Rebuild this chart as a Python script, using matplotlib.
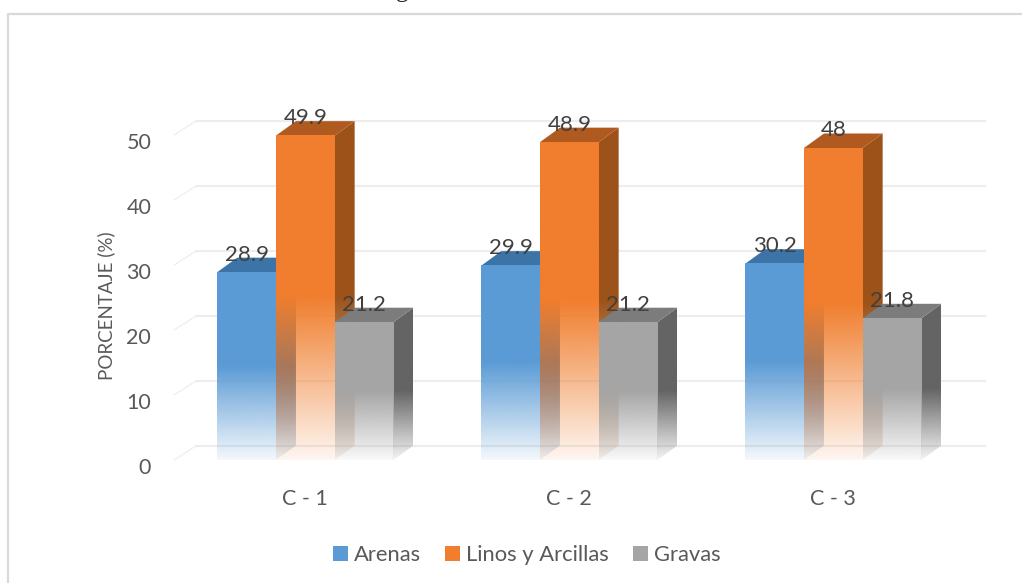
# -*- coding: utf-8 -*-
import numpy as np
import matplotlib.pyplot as plt
from matplotlib.patches import Patch, Polygon
from matplotlib.transforms import ScaledTranslation

plt.rcParams['font.family'] = ['Lato', 'DejaVu Sans']

# DATA ------------------------------------------------------------------------
categorias = ['C - 1', 'C - 2', 'C - 3']
series = ['Arenas', 'Linos y Arcillas', 'Gravas']
arenas = [28.9, 29.9, 30.2]
linos = [49.9, 48.9, 48]
gravas = [21.2, 21.2, 21.8]
etiquetas = [['28.9', '29.9', '30.2'], ['49.9', '48.9', '48'], ['21.2', '21.2', '21.8']]
valores = [arenas, linos, gravas]
yticks = [0, 10, 20, 30, 40, 50]

# front, top and side colours of each series
frente = ['#5B9BD5', '#F07E2E', '#A5A5A5']
arriba = ['#3C74A8', '#B05A20', '#7C7C7C']
lado = ['#3A6E9F', '#9C5219', '#646464']
color_texto = '#595959'

# GEOMETRY --------------------------------------------------------------------
W, H = 1022, 583
px_x = 264.0      # pixels per category
px_y = 6.5        # pixels per percent
x0_px = 305.3     # first category centre
y0_px = 460.0     # front base of the columns
ax_left, ax_right = 172.0, 1000.0
ax_top = 60.0

ancho = 58.7 / px_x
prof_x = 20.0 / px_x
prof_y = 14.5 / px_y

fig = plt.figure(figsize=(W / 100, H / 100), dpi=100)
ax = fig.add_axes([ax_left / W, 1 - y0_px / H, (ax_right - ax_left) / W, (y0_px - ax_top) / H])
ax.set_xlim((ax_left - x0_px) / px_x, (ax_right - x0_px) / px_x)
ax.set_ylim(0, (y0_px - ax_top) / px_y)
for s in ax.spines.values():
    s.set_visible(False)
ax.patch.set_visible(False)


def degradado(rgb, val, y0, y1, n=200):
    # solid over the upper half of the column, fading out towards the base
    t = np.linspace(1, 0, n)
    yy = y0 + t * (y1 - y0)
    a = np.clip(yy / (val * 0.5), 0, 1)
    a = 0.07 + 0.93 * a
    img = np.ones((n, 1, 4))
    img[:, :, :3] = plt.matplotlib.colors.to_rgb(rgb)
    img[:, :, 3] = a[:, None]
    return img


def columna(x, val, c_frente, c_arriba, c_lado):
    # side face
    y_lado = (0, val + prof_y)
    img = degradado(c_lado, val, y_lado[0], y_lado[1])
    im = ax.imshow(img, extent=(x + ancho, x + ancho + prof_x, y_lado[0], y_lado[1]),
                   aspect='auto', zorder=3, interpolation='bilinear')
    clip = Polygon([(x + ancho, 0), (x + ancho + prof_x, prof_y),
                    (x + ancho + prof_x, val + prof_y), (x + ancho, val)],
                   transform=ax.transData, fill=False, edgecolor='none')
    ax.add_patch(clip)
    im.set_clip_path(clip)
    # top face
    ax.add_patch(Polygon([(x, val), (x + ancho, val), (x + ancho + prof_x, val + prof_y),
                          (x + prof_x, val + prof_y)], facecolor=c_arriba,
                         edgecolor='none', zorder=3))
    # front face
    img = degradado(c_frente, val, 0, val)
    ax.imshow(img, extent=(x, x + ancho, 0, val), aspect='auto', zorder=3,
              interpolation='bilinear')


# BACK WALL AND FLOOR GRID ----------------------------------------------------
gx0 = (197.0 - x0_px) / px_x
gx1 = (985.0 - x0_px) / px_x
for v in yticks:
    ax.plot([gx0, gx1], [v + prof_y - 0.1, v + prof_y - 0.1], color='#EDEDED', lw=1.6, zorder=1)
    ax.plot([gx0 - 23.0 / px_x, gx0], [v, v + prof_y], color='#E6E6E6', lw=1.0,
            ls=(0, (1, 0.6)), zorder=1, clip_on=False)

# COLUMNS ---------------------------------------------------------------------
for i in range(len(categorias)):
    for j in range(len(series)):
        x = i + (j - 1.5) * ancho
        columna(x, valores[j][i], frente[j], arriba[j], lado[j])

ax.set_xlim((ax_left - x0_px) / px_x, (ax_right - x0_px) / px_x)
ax.set_ylim(0, (y0_px - ax_top) / px_y)

# DATA LABELS -----------------------------------------------------------------
for i in range(len(categorias)):
    for j in range(len(series)):
        x = i + (j - 1.0) * ancho
        ax.text(x, valores[j][i] + 2.7, etiquetas[j][i], ha='center', va='center',
                fontsize=16, color='#404040', zorder=5)

# AXES ------------------------------------------------------------------------
ax.set_xticks(range(len(categorias)))
ax.set_xticklabels(categorias, fontsize=15.5, color=color_texto)
ax.set_yticks(yticks)
ax.set_yticklabels([str(v) for v in yticks], fontsize=15.5, color=color_texto)
ax.tick_params(axis='both', length=0)
ax.tick_params(axis='x', pad=21)
ax.tick_params(axis='y', pad=15)
baja = ScaledTranslation(0, -6 / 100, fig.dpi_scale_trans)
for lab in ax.get_yticklabels():
    lab.set_transform(lab.get_transform() + baja)

fig.text(106 / W, 1 - 306 / H, 'PORCENTAJE (%)', rotation=90, ha='center', va='center',
         fontsize=13.5, color=color_texto)

# LEGEND ----------------------------------------------------------------------
handles = [Patch(facecolor=c, edgecolor='none') for c in frente]
fig.legend(handles, series, loc='center', bbox_to_anchor=(526.5 / W, 1 - 555 / H), ncol=3,
           frameon=False, fontsize=15.8, labelcolor=color_texto, handlelength=0.7,
           handleheight=0.7, handletextpad=0.25, columnspacing=1.1)

# OUTER FRAME AND CAPTION REMAINDER -------------------------------------------
fig.add_artist(plt.Line2D([7.5 / W, 7.5 / W, 1], [0, 1 - 14 / H, 1 - 14 / H],
                          color='#D9D9D9', lw=1.6))
fig.text(402 / W, 1 + 2.5 / H, 'g', family='Liberation Serif', fontsize=18, color='#222222',
         ha='center', va='baseline')

fig.savefig('out.png', dpi=100, facecolor='white')
